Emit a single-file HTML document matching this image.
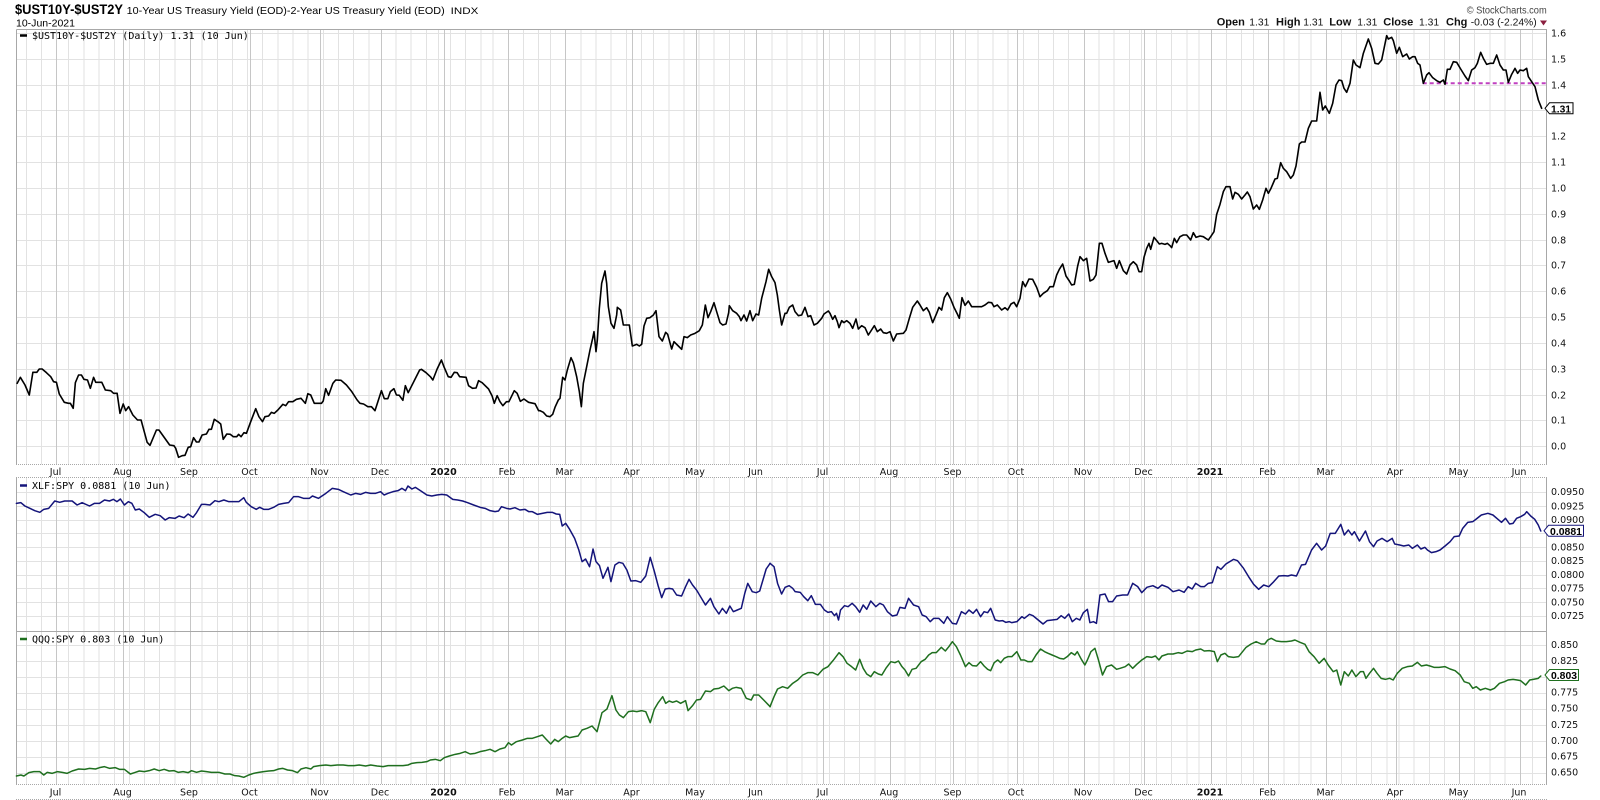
<!DOCTYPE html>
<html><head><meta charset="utf-8">
<style>
html,body{margin:0;padding:0;background:#fff;}
svg{display:block;}
.ax{font-family:"DejaVu Sans",sans-serif;font-size:9.5px;fill:#111;}
.dt{font-family:"DejaVu Sans",sans-serif;font-size:9.5px;fill:#111;}
.lg{font-family:"DejaVu Sans Mono",monospace;font-size:10px;fill:#000;}
</style></head><body>
<svg width="1600" height="800" viewBox="0 0 1600 800" xmlns="http://www.w3.org/2000/svg">
<rect width="1600" height="800" fill="#fff"/>

<!-- horizontal grid -->
<g stroke="#e2e2e2" stroke-width="1" shape-rendering="crispEdges">
<path d="M16 446.5H1547M16 420.5H1547M16 395.5H1547M16 369.5H1547M16 343.5H1547M16 317.5H1547M16 291.5H1547M16 265.5H1547M16 240.5H1547M16 214.5H1547M16 188.5H1547M16 162.5H1547M16 136.5H1547M16 110.5H1547M16 85.5H1547M16 59.5H1547M16 33.5H1547"/>
<path d="M16 492.5H1547M16 506.5H1547M16 520.5H1547M16 533.5H1547M16 547.5H1547M16 561.5H1547M16 575.5H1547M16 588.5H1547M16 602.5H1547M16 616.5H1547"/>
<path d="M16 645.5H1547M16 661.5H1547M16 677.5H1547M16 693.5H1547M16 709.5H1547M16 725.5H1547M16 741.5H1547M16 757.5H1547M16 773.5H1547"/>
</g>
<!-- weekly vertical grid -->
<path stroke="#e2e2e2" stroke-width="1" shape-rendering="crispEdges" d="M26.5 29V784M41.5 29V784M68.5 29V784M84 29V784M99 29V784M114.5 29V784M129.5 29V784M144.5 29V784M159.5 29V784M175 29V784M202 29V784M217.5 29V784M232.5 29V784M247.5 29V784M262.5 29V784M278 29V784M293 29V784M308 29V784M323.5 29V784M338.5 29V784M353.5 29V784M369 29V784M396 29V784M411 29V784M426.5 29V784M438.5 29V784M450.5 29V784M465.5 29V784M481 29V784M493 29V784M523.5 29V784M538.5 29V784M550.5 29V784M581 29V784M596 29V784M611 29V784M626.5 29V784M641.5 29V784M653.5 29V784M669 29V784M684 29V784M699 29V784M714 29V784M729.5 29V784M744.5 29V784M772 29V784M787 29V784M802 29V784M817 29V784M829.5 29V784M844.5 29V784M859.5 29V784M875 29V784M905 29V784M920 29V784M935.5 29V784M950.5 29V784M965.5 29V784M978 29V784M993 29V784M1008 29V784M1023.5 29V784M1038.5 29V784M1053.5 29V784M1068.5 29V784M1099 29V784M1114 29V784M1129.5 29V784M1141.5 29V784M1156.5 29V784M1171.5 29V784M1187 29V784M1199 29V784M1226.5 29V784M1241.5 29V784M1253.5 29V784M1284 29V784M1299 29V784M1311 29V784M1341.5 29V784M1356.5 29V784M1371.5 29V784M1387 29V784M1399 29V784M1414 29V784M1429.5 29V784M1444.5 29V784M1474.5 29V784M1490 29V784M1505 29V784M1532.5 29V784"/>
<!-- month vertical grid -->
<path stroke="#c6c6c6" stroke-width="1" shape-rendering="crispEdges" d="M56.5 29V784M123.5 29V784M190.5 29V784M250.5 29V784M320.5 29V784M381.5 29V784M444.5 29V784M508.5 29V784M565.5 29V784M632.5 29V784M696.5 29V784M756.5 29V784M823.5 29V784M890.5 29V784M953.5 29V784M1017.5 29V784M1084.5 29V784M1144.5 29V784M1211.5 29V784M1268.5 29V784M1326.5 29V784M1396.5 29V784M1459.5 29V784M1520.5 29V784"/>

<!-- date strips -->
<rect x="16" y="464.5" width="1531" height="13" fill="#fff"/>
<rect x="16" y="784.5" width="1531" height="15" fill="#fff"/>
<g stroke="#a8a8a8" stroke-width="1" stroke-dasharray="1,1" shape-rendering="crispEdges">
<path d="M16 464.5H1547M16 477.5H1547M16 784.5H1547M16 799.5H1547"/>
</g>

<!-- panel borders -->
<g stroke="#a8a8a8" stroke-width="1" fill="none" shape-rendering="crispEdges">
<path d="M16.5 29.5H1546.5V464M16.5 29.5V464"/>
<path d="M16.5 478V784M1546.5 478V784"/>
<path d="M16 631.5H1547"/>
</g>

<!-- header -->
<text x="15" y="14" font-family="Liberation Sans, sans-serif" font-weight="bold" font-size="14" textLength="108" lengthAdjust="spacingAndGlyphs">$UST10Y-$UST2Y</text>
<text x="126.7" y="14" font-family="Liberation Sans, sans-serif" font-size="10.5" textLength="318" lengthAdjust="spacingAndGlyphs">10-Year US Treasury Yield (EOD)-2-Year US Treasury Yield (EOD)</text>
<text x="450.7" y="14" font-family="Liberation Sans, sans-serif" font-size="9" textLength="27.6" lengthAdjust="spacingAndGlyphs">INDX</text>
<text x="16" y="26.5" font-family="Liberation Sans, sans-serif" font-size="10" textLength="59" lengthAdjust="spacingAndGlyphs">10-Jun-2021</text>

<text x="1466.7" y="13.5" font-family="Liberation Sans, sans-serif" font-size="10" fill="#444" textLength="80" lengthAdjust="spacingAndGlyphs">© StockCharts.com</text>
<g font-family="Liberation Sans, sans-serif" font-size="10.3" fill="#111">
<text x="1216.7" y="25.5" font-weight="bold" font-size="11">Open</text>
<text x="1249.3" y="25.5">1.31</text>
<text x="1276" y="25.5" font-weight="bold" font-size="11">High</text>
<text x="1303.3" y="25.5">1.31</text>
<text x="1329.3" y="25.5" font-weight="bold" font-size="11">Low</text>
<text x="1357.3" y="25.5">1.31</text>
<text x="1383.3" y="25.5" font-weight="bold" font-size="11">Close</text>
<text x="1419" y="25.5">1.31</text>
<text x="1446" y="25.5" font-weight="bold" font-size="11">Chg</text>
<text x="1470.7" y="25.5" textLength="66" lengthAdjust="spacingAndGlyphs">-0.03 (-2.24%)</text>
</g>
<polygon points="1540,20.5 1547,20.5 1543.5,25.5" fill="#8b2040"/>

<!-- legends -->
<line x1="20" y1="35.5" x2="27" y2="35.5" stroke="#000" stroke-width="2.5"/>
<text class="lg" x="32" y="39">$UST10Y-$UST2Y (Daily) 1.31 (10 Jun)</text>
<line x1="20" y1="485.5" x2="27" y2="485.5" stroke="#14147a" stroke-width="2.5"/>
<text class="lg" x="32" y="489">XLF:SPY 0.0881 (10 Jun)</text>
<line x1="20" y1="639" x2="27" y2="639" stroke="#1f6f1f" stroke-width="2.5"/>
<text class="lg" x="32" y="642.5">QQQ:SPY 0.803 (10 Jun)</text>

<!-- date labels -->
<g class="dt" text-anchor="middle">
<text x="55.5" y="475">Jul</text><text x="122.5" y="475">Aug</text><text x="189" y="475">Sep</text><text x="249.5" y="475">Oct</text><text x="319.5" y="475">Nov</text><text x="380" y="475">Dec</text><text x="443.5" y="475" font-weight="bold">2020</text><text x="507" y="475">Feb</text><text x="564.5" y="475">Mar</text><text x="631.5" y="475">Apr</text><text x="695" y="475">May</text><text x="755.5" y="475">Jun</text><text x="822.5" y="475">Jul</text><text x="889" y="475">Aug</text><text x="952.5" y="475">Sep</text><text x="1016" y="475">Oct</text><text x="1083" y="475">Nov</text><text x="1143.5" y="475">Dec</text><text x="1210" y="475" font-weight="bold">2021</text><text x="1267.5" y="475">Feb</text><text x="1325.5" y="475">Mar</text><text x="1395" y="475">Apr</text><text x="1458.5" y="475">May</text><text x="1519" y="475">Jun</text>
</g>
<g class="dt" text-anchor="middle">
<text x="55.5" y="795.5">Jul</text><text x="122.5" y="795.5">Aug</text><text x="189" y="795.5">Sep</text><text x="249.5" y="795.5">Oct</text><text x="319.5" y="795.5">Nov</text><text x="380" y="795.5">Dec</text><text x="443.5" y="795.5" font-weight="bold">2020</text><text x="507" y="795.5">Feb</text><text x="564.5" y="795.5">Mar</text><text x="631.5" y="795.5">Apr</text><text x="695" y="795.5">May</text><text x="755.5" y="795.5">Jun</text><text x="822.5" y="795.5">Jul</text><text x="889" y="795.5">Aug</text><text x="952.5" y="795.5">Sep</text><text x="1016" y="795.5">Oct</text><text x="1083" y="795.5">Nov</text><text x="1143.5" y="795.5">Dec</text><text x="1210" y="795.5" font-weight="bold">2021</text><text x="1267.5" y="795.5">Feb</text><text x="1325.5" y="795.5">Mar</text><text x="1395" y="795.5">Apr</text><text x="1458.5" y="795.5">May</text><text x="1519" y="795.5">Jun</text>
</g>

<!-- right axis labels -->
<g class="ax">
<text x="1551" y="36.5">1.6</text><text x="1551" y="62.5">1.5</text><text x="1551" y="88.5">1.4</text><text x="1551" y="139.5">1.2</text><text x="1551" y="165.5">1.1</text><text x="1551" y="191.5">1.0</text><text x="1551" y="217.5">0.9</text><text x="1551" y="243.5">0.8</text><text x="1551" y="268.5">0.7</text><text x="1551" y="294.5">0.6</text><text x="1551" y="320.5">0.5</text><text x="1551" y="346.5">0.4</text><text x="1551" y="372.5">0.3</text><text x="1551" y="398.5">0.2</text><text x="1551" y="423.5">0.1</text><text x="1551" y="449.5">0.0</text>
<text x="1551" y="495">0.0950</text><text x="1551" y="509.5">0.0925</text><text x="1551" y="523">0.0900</text><text x="1551" y="550.5">0.0850</text><text x="1551" y="564">0.0825</text><text x="1551" y="578">0.0800</text><text x="1551" y="591.5">0.0775</text><text x="1551" y="605.5">0.0750</text><text x="1551" y="619">0.0725</text>
<text x="1551" y="648">0.850</text><text x="1551" y="664">0.825</text><text x="1551" y="695.5">0.775</text><text x="1551" y="711.5">0.750</text><text x="1551" y="728">0.725</text><text x="1551" y="744">0.700</text><text x="1551" y="759.5">0.675</text><text x="1551" y="775.5">0.650</text>
</g>

<!-- magenta dashed support line -->
<line x1="1422.7" y1="83.3" x2="1547" y2="83.3" stroke="#c040c0" stroke-width="2" stroke-dasharray="4,3"/>

<!-- top series (black) -->
<g fill="none" stroke="#000" stroke-width="1.6" stroke-linejoin="round" stroke-linecap="round">
<polyline vector-effect="non-scaling-stroke" transform="translate(0,240) scale(0.357143,0.333333)" points="48,430 57,412 70,435 82,465 92,397 103,397 110,387 118,387 130,398 142,410 150,425 158,427 166,462 180,487 192,490 197,490 205,505 211,428 220,405 228,405 235,418 245,420 253,445 262,412 268,427 285,427 295,450 310,452 318,460 328,460 336,520 345,492 352,512 360,500 372,525 385,540 395,540 412,607 420,616 438,570 445,570 455,585 475,615 487,617 492,625 500,652 510,647 518,646 527,622 534,620 542,593 550,606 557,606 566,585 578,582 585,568 592,568 600,538 610,545 618,552 625,598 635,582 645,583 653,590 663,590 668,583 675,590 683,578 690,580 702,545 716,506 725,530 735,545 742,530 752,528 760,517 768,520 778,510 792,493 800,497 808,485 820,485 830,478 843,475 855,490 862,461 870,465 880,490 900,490 905,483 912,446 920,466 932,430 940,420 955,421 970,435 985,455 1000,480 1008,490 1018,492 1030,500 1040,500 1050,512 1068,452 1076,476 1086,476 1093,455 1103,446 1110,465 1118,466 1128,481 1135,437 1143,458 1160,422 1175,390 1180,388 1193,398 1205,410 1212,420 1224,387 1236,360 1243,380 1255,410 1263,412 1272,397 1280,398 1287,410 1305,412 1312,437 1323,445 1333,444 1340,422 1350,428 1368,447 1378,468 1384,490 1392,467 1400,485 1408,497 1418,485 1425,485 1440,452 1448,460 1457,484 1467,477 1480,487 1498,491 1508,512 1512,512"/>
<polyline vector-effect="non-scaling-stroke" transform="translate(540,170) scale(0.333333)" points="0,722 10,727 20,738 30,740 38,733 45,712 55,690 60,685 68,622 75,630 82,600 93,563 100,578 110,620 118,665 124,710 130,640 140,590 150,540 158,505 162,485 168,545 172,510 178,415 185,340 195,303 200,340 205,410 213,460 222,475 230,435 232,412 242,420 250,465 268,465 277,528 285,525 290,523 298,528 305,523 312,468 320,445 330,443 340,435 348,422 357,500 367,513 377,487 383,493 395,537 402,515 412,525 425,538 432,500 442,503 452,495 465,490 478,482 487,465 496,405 504,443 512,425 522,398 530,425 540,458 548,465 558,462 566,428 568,407 578,422 590,430 598,440 603,452 612,435 620,453 630,422 638,452 648,432 656,435 665,385 678,335 686,298 695,320 705,338 712,375 718,420 725,465 735,430 740,430 748,412 758,405 765,425 775,437 785,435 795,412 804,440 812,437 822,465 832,460 845,445 852,432 865,423 870,430 878,448 885,437 892,455 897,473 905,452 912,458 920,452 930,460 938,475 948,447 955,477 965,467 975,473 985,495 1003,467 1012,485 1022,477 1030,488 1040,490 1050,485 1060,513 1070,492 1090,490 1098,480 1108,445 1118,412 1132,393 1140,405 1150,422 1160,413 1168,427 1178,458 1190,430 1197,412 1205,420 1213,383 1222,368 1232,387 1242,412 1252,432 1258,445 1266,383 1275,406 1285,393 1295,410 1325,410 1335,405 1345,397 1355,398 1362,410 1372,405 1385,420 1395,413 1403,420 1413,402 1422,397 1430,410 1440,385 1448,335 1456,350 1467,327 1478,328 1490,352 1500,380"/>
<polyline vector-effect="non-scaling-stroke" transform="translate(1040,20) scale(0.333333)" points="0,830 10,820 22,812 30,800 40,800 50,765 58,748 68,732 78,768 88,783 95,795 103,793 113,738 120,710 130,722 140,715 150,783 160,778 168,765 178,670 186,670 195,700 205,727 212,725 222,722 230,745 238,722 250,752 260,762 270,735 280,725 290,735 297,755 305,755 312,712 320,685 327,670 332,688 342,652 350,662 358,672 365,670 375,673 382,670 390,677 395,683 403,655 410,668 420,650 430,645 440,645 452,660 460,638 468,652 480,648 490,650 497,655 505,660 512,650 522,635 530,583 540,553 550,515 558,500 570,500 578,537 585,517 595,523 605,537 615,525 622,516 630,530 640,567 650,555 658,568 668,540 678,505 685,520 693,505 705,477 712,475 722,428 730,445 740,455 752,475 760,465 768,438 778,372 785,366 795,366 805,325 815,303 830,303 840,217 848,270 856,258 868,280 878,250 888,195 897,180 905,182 912,205 920,217 930,190 940,120 948,135 960,143 970,100 985,57 995,85 1005,130 1015,132 1025,120 1040,47 1045,57 1055,52 1060,62 1070,100 1078,82 1088,110 1100,102 1108,117 1118,110 1125,110 1133,130 1140,135 1150,190 1160,165 1167,158 1178,173 1190,182 1200,187 1210,180 1215,193 1222,148 1230,148 1240,125 1250,127 1262,147 1275,168 1285,182 1295,150 1305,143 1312,130 1322,97 1330,115 1340,133 1350,130 1360,130 1370,105 1380,135 1390,150 1398,150 1405,187 1415,163 1425,145 1433,160 1440,150 1450,152 1460,145 1465,170 1475,185 1485,200 1495,240 1505,265"/>
</g>

<!-- middle series (navy) -->
<g fill="none" stroke="#14147a" stroke-width="1.5" stroke-linejoin="round" stroke-linecap="round">
<polyline vector-effect="non-scaling-stroke" transform="translate(0,470) scale(0.497512,0.333333)" points="33,100 42,98 50,108 60,115 70,122 80,127 88,118 98,115 110,93 120,97 130,93 145,93 155,105 165,98 180,108 190,100 200,100 210,90 220,93 228,88 235,95 242,87 250,105 258,95 265,100 272,120 280,117 290,128 300,142 312,133 322,137 332,150 340,143 352,145 360,138 370,143 378,132 388,142 395,128 405,103 412,103 422,105 432,92 440,95 450,90 460,95 470,95 480,95 490,83 495,97 505,110 515,118 522,112 530,118 540,118 550,112 560,103 570,100 580,98 590,80 600,80 610,85 622,85 628,78 640,85 655,70 668,55 680,58 690,65 705,75 715,70 725,73 735,67 745,70 755,70 765,65 772,75 780,70 790,65 800,62 808,55 815,62 820,48 828,57 835,52 845,62 858,75 868,78 878,75 888,73 898,75 910,88 920,90 930,93 940,98 952,105 965,112 975,115 985,122 995,125 1002,123 1008,110 1018,115 1025,117 1035,113 1045,120 1055,118 1063,125 1070,125 1080,133 1090,130 1100,127 1110,127 1118,132 1125,133 1130,168 1137,160 1145,178 1155,205 1163,238 1170,275 1177,267 1185,290 1192,237 1198,275 1205,287 1212,325 1222,292 1228,335 1236,285 1244,277 1252,280 1260,300 1268,333 1278,332 1288,337 1298,318 1307,262 1315,303 1323,348 1330,383 1337,357 1345,355 1352,357 1360,375 1370,378 1378,350 1385,328 1392,345 1400,360 1408,380 1418,405 1428,385 1435,410 1445,432 1452,415 1460,430 1467,408 1474,425 1482,420 1490,415 1497,370 1503,340 1512,365 1520,368 1527,363 1540,297 1548,280"/>
<polyline vector-effect="non-scaling-stroke" transform="translate(770,470) scale(0.503778,0.333333)" points="0,280 8,290 15,340 23,372 30,352 38,347 45,355 50,365 60,367 67,380 75,392 82,377 90,403 100,403 108,420 115,427 122,425 128,437 132,430 136,450 140,420 148,407 155,410 163,400 170,410 178,427 185,405 192,418 200,393 210,410 218,400 225,405 233,425 243,438 252,435 258,412 268,415 275,385 285,405 295,410 302,435 310,440 318,455 325,445 335,445 345,460 352,440 362,460 370,462 380,425 388,432 395,420 403,430 410,418 418,440 425,425 432,428 438,415 447,450 455,453 462,452 468,457 475,455 480,458 490,455 500,440 505,445 515,433 522,437 530,447 542,462 550,452 560,450 570,448 578,437 585,445 593,432 600,455 608,445 615,450 622,428 630,418 635,458 642,455 648,460 655,375 665,372 672,395 680,395 688,378 700,375 710,375 720,340 730,350 738,368 748,352 760,347 770,355 778,345 790,352 800,365 812,360 822,367 830,350 838,357 845,340 855,350 862,350 870,340 878,338 888,290 895,298 905,282 920,268 928,272 940,295 950,320 960,343 970,358 980,345 990,350 1000,335 1010,318 1020,317 1028,318 1035,315 1045,318 1055,285 1063,283 1075,240 1085,220 1095,240 1103,228 1112,190 1122,190 1133,163 1140,195 1148,180 1155,195 1160,185 1170,213 1182,183 1190,215 1198,230 1205,213 1215,205 1225,215 1235,205 1240,222 1250,225 1258,228 1268,225 1275,235 1285,225 1292,237 1300,232 1305,240 1313,248 1322,245 1330,240 1340,228 1350,215 1358,200 1368,198 1375,175 1385,157 1395,155 1402,147 1412,135 1425,130 1435,135 1445,148 1452,157 1460,145 1468,162 1475,160 1482,145 1490,140 1498,133 1502,125 1510,138 1518,148 1525,165 1530,183"/>
</g>

<!-- bottom series (green) -->
<g fill="none" stroke="#1f6f1f" stroke-width="1.5" stroke-linejoin="round" stroke-linecap="round">
<polyline vector-effect="non-scaling-stroke" transform="translate(0,470) scale(0.497512,0.333333)" points="33,918 42,915 48,918 58,908 68,905 80,905 88,915 95,907 105,910 115,905 125,907 135,910 145,903 158,897 170,898 180,895 192,897 200,893 210,890 220,895 232,893 240,898 250,898 262,912 270,908 280,903 290,905 300,902 310,897 320,902 330,898 340,903 350,902 358,907 368,905 378,908 385,902 395,907 405,903 415,905 425,907 440,907 452,912 462,912 472,917 480,918 490,922 500,915 510,910 520,907 530,905 540,903 550,902 560,897 568,895 578,900 588,902 598,908 605,897 615,893 625,897 630,890 642,887 655,885 665,887 678,885 690,885 700,887 712,887 722,885 735,888 745,885 758,888 770,890 780,887 790,887 800,887 810,887 820,885 828,880 838,878 848,877 858,875 865,870 875,868 885,872 893,863 903,858 915,853 925,850 935,845 945,852 955,850 965,845 975,842 985,838 995,845 1005,837 1015,833 1022,818 1028,825 1038,815 1050,810 1060,805 1070,805 1080,800 1090,795 1098,808 1107,822 1115,808 1122,815 1130,805 1137,798 1145,803 1155,800 1162,798 1170,780 1180,775 1190,768 1200,785 1210,728 1220,717 1230,677 1238,720 1245,735 1253,743 1263,725 1272,723 1280,725 1290,722 1298,725 1307,758 1315,718 1323,698 1332,680 1338,700 1345,693 1352,697 1360,693 1368,700 1378,692 1383,722 1392,707 1400,690 1408,688 1418,663 1428,665 1435,657 1445,655 1455,648 1465,662 1472,655 1480,652 1490,655 1500,685 1510,690 1515,675 1525,675 1535,690 1548,710"/>
<polyline vector-effect="non-scaling-stroke" transform="translate(770,470) scale(0.503778,0.333333)" points="0,710 8,680 15,657 25,650 35,655 45,640 55,630 65,615 75,608 85,608 95,615 105,598 115,590 125,572 137,548 145,560 153,580 162,590 170,600 178,568 185,595 192,612 200,620 207,605 215,612 222,615 230,595 240,575 248,578 255,573 262,590 268,600 275,618 282,598 290,595 300,575 308,568 315,555 322,548 330,548 340,532 348,543 355,530 362,515 370,530 378,555 388,590 395,578 402,587 410,588 418,575 425,588 432,598 438,602 445,578 452,570 458,578 465,565 472,560 480,560 490,545 498,570 505,570 512,575 520,575 528,555 537,537 545,545 552,550 560,555 568,560 575,565 583,567 590,560 598,548 605,555 610,545 618,568 625,585 630,570 637,545 645,535 652,570 660,615 668,590 678,585 688,598 695,595 705,590 712,582 720,595 728,583 738,570 748,560 758,562 765,558 772,570 778,558 790,552 800,552 810,548 818,550 828,543 838,545 845,540 855,537 862,543 872,542 882,545 888,575 895,555 903,550 910,560 920,562 930,560 938,545 945,532 955,522 965,515 975,522 982,522 988,510 995,505 1005,513 1015,515 1025,515 1035,513 1042,510 1052,517 1062,523 1070,545 1080,560 1090,580 1100,565 1108,585 1118,605 1125,600 1133,645 1140,605 1148,618 1155,600 1163,620 1172,605 1178,605 1183,625 1190,610 1198,595 1205,610 1213,625 1222,628 1230,625 1237,630 1245,610 1255,595 1265,590 1275,588 1285,577 1293,588 1303,585 1310,588 1318,592 1328,592 1340,590 1350,597 1360,602 1370,615 1378,635 1388,640 1395,655 1402,650 1410,660 1420,655 1430,660 1438,655 1448,640 1458,635 1465,630 1475,628 1483,630 1490,632 1500,645 1508,630 1515,628 1525,625 1530,618"/>
</g>

<!-- value tags -->
<polygon points="1545,108.3 1549.5,102.8 1573,102.8 1573,113.8 1549.5,113.8" fill="#fff" stroke="#000" stroke-width="1"/>
<text x="1551" y="112.3" font-family="Liberation Sans, sans-serif" font-weight="bold" font-size="10.5" textLength="20" lengthAdjust="spacingAndGlyphs">1.31</text>
<polygon points="1544,530.8 1548.5,525.3 1583.5,525.3 1583.5,536.3 1548.5,536.3" fill="#fff" stroke="#14147a" stroke-width="1"/>
<text x="1550" y="534.8" font-family="Liberation Sans, sans-serif" font-weight="bold" font-size="10.5" textLength="32" lengthAdjust="spacingAndGlyphs">0.0881</text>
<polygon points="1545,675 1549.5,669.5 1578.5,669.5 1578.5,680.5 1549.5,680.5" fill="#fff" stroke="#1f6f1f" stroke-width="1"/>
<text x="1551" y="679" font-family="Liberation Sans, sans-serif" font-weight="bold" font-size="10.5" textLength="26" lengthAdjust="spacingAndGlyphs">0.803</text>
</svg>
</body></html>
